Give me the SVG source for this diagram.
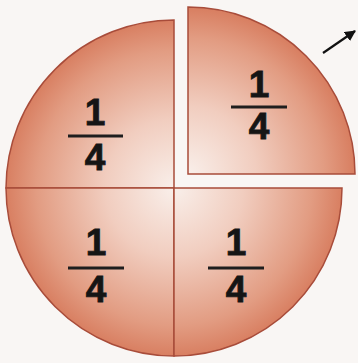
<svg xmlns="http://www.w3.org/2000/svg" width="358" height="363" viewBox="0 0 358 363">
<defs>
<radialGradient id="gC" gradientUnits="userSpaceOnUse" cx="174" cy="188" r="172">
<stop offset="0" stop-color="#f9efea"/>
<stop offset="0.4" stop-color="#f1cdbf"/>
<stop offset="0.8" stop-color="#e29c82"/>
<stop offset="1" stop-color="#d77b5d"/>
</radialGradient>
<radialGradient id="gT" gradientUnits="userSpaceOnUse" cx="188" cy="174" r="170">
<stop offset="0" stop-color="#f9efea"/>
<stop offset="0.4" stop-color="#f1cdbf"/>
<stop offset="0.8" stop-color="#e29c82"/>
<stop offset="1" stop-color="#d77b5d"/>
</radialGradient>
<marker id="ah" viewBox="0 0 10 10" refX="9" refY="5" markerWidth="5" markerHeight="5" orient="auto" markerUnits="strokeWidth">
<path d="M0,0 L10,5 L0,10 Z" fill="#111"/>
</marker>
<style>
.q{stroke:#a84c3a;stroke-width:1.5;}
.d{font-family:"Liberation Sans",Arial,sans-serif;font-weight:bold;font-size:37px;fill:#151515;text-anchor:middle;stroke:#151515;stroke-width:0.8;}
.bar{stroke:#1e1e1e;stroke-width:3;}
</style>
</defs>
<rect width="358" height="363" fill="#f9f6f4"/>
<g id="q-upper-left">
<path class="q" fill="url(#gC)" d="M174,188 L6,188 A168,168 0 0 1 174,20 Z"/>
<text class="d" x="95" y="125">1</text>
<line class="bar" x1="68" y1="136" x2="123" y2="136"/>
<text class="d" x="95" y="170">4</text>
</g>
<g id="q-lower-left">
<path class="q" fill="url(#gC)" d="M174,188 L174,356 A168,168 0 0 1 6,188 Z"/>
<text class="d" x="96" y="255">1</text>
<line class="bar" x1="68" y1="268" x2="124" y2="268"/>
<text class="d" x="96" y="302">4</text>
</g>
<g id="q-lower-right">
<path class="q" fill="url(#gC)" d="M174,188 L342,188 A168,168 0 0 1 174,356 Z"/>
<text class="d" x="236" y="255">1</text>
<line class="bar" x1="208" y1="268" x2="264" y2="268"/>
<text class="d" x="236" y="302">4</text>
</g>
<g id="q-upper-right">
<path class="q" fill="url(#gT)" d="M188,174 L188,7 A167,167 0 0 1 355,174 Z"/>
<text class="d" x="259" y="97">1</text>
<line class="bar" x1="231" y1="107" x2="287" y2="107"/>
<text class="d" x="259" y="139">4</text>
</g>
<g id="connectors">
<line x1="323" y1="53" x2="355" y2="31" stroke="#111" stroke-width="2.2" marker-end="url(#ah)"/>
</g>
</svg>
